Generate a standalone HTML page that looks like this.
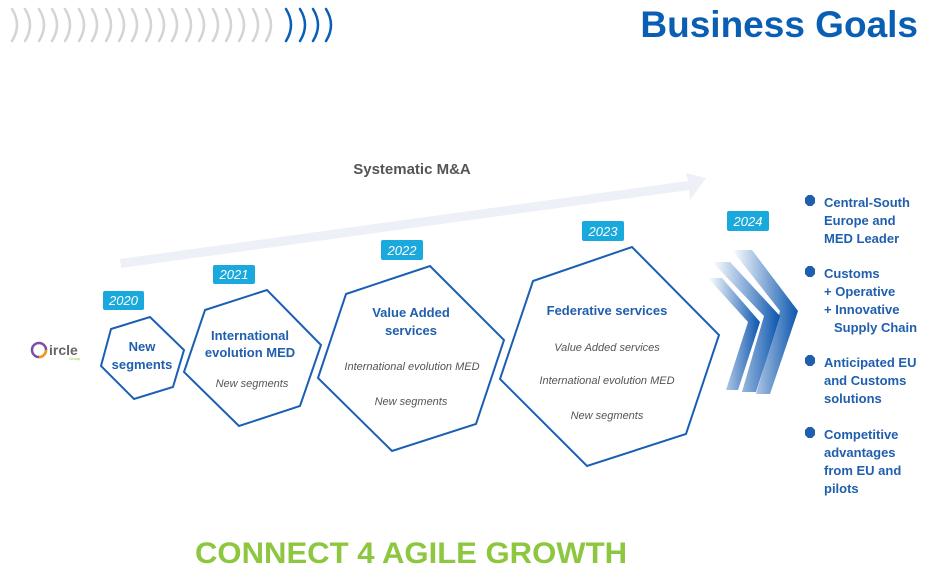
<!DOCTYPE html>
<html><head><meta charset="utf-8"><style>
body{margin:0;background:#fff;width:935px;height:582px;overflow:hidden}
svg{display:block;font-family:"Liberation Sans",sans-serif}
</style></head><body>
<svg width="935" height="582" viewBox="0 0 935 582">
<defs>
<linearGradient id="g" x1="0" y1="0" x2="1" y2="0">
<stop offset="0" stop-color="#1a5fb4" stop-opacity="0"/>
<stop offset="1" stop-color="#0a55ad" stop-opacity="1"/>
</linearGradient>
</defs>
<!-- header arcs -->
<g fill="none" stroke-width="2.5" stroke-linecap="round">
<g stroke="#d4d4d4">
<path d="M12 9 Q22 25 12 41"/><path d="M25 9 Q35 25 25 41"/><path d="M39 9 Q49 25 39 41"/><path d="M52 9 Q62 25 52 41"/><path d="M65 9 Q75 25 65 41"/><path d="M79 9 Q89 25 79 41"/><path d="M92 9 Q102 25 92 41"/><path d="M106 9 Q116 25 106 41"/><path d="M119 9 Q129 25 119 41"/><path d="M132 9 Q142 25 132 41"/><path d="M146 9 Q156 25 146 41"/><path d="M159 9 Q169 25 159 41"/><path d="M172 9 Q182 25 172 41"/><path d="M186 9 Q196 25 186 41"/><path d="M199 9 Q209 25 199 41"/><path d="M213 9 Q223 25 213 41"/><path d="M226 9 Q236 25 226 41"/><path d="M239 9 Q249 25 239 41"/><path d="M253 9 Q263 25 253 41"/><path d="M266 9 Q276 25 266 41"/>
</g>
<g stroke="#0a5fb4">
<path d="M286 9 Q296 25 286 41"/><path d="M300 9 Q310 25 300 41"/><path d="M313 9 Q323 25 313 41"/><path d="M326 9 Q336 25 326 41"/>
</g></g>
<text x="918" y="37" text-anchor="end" font-size="37" font-weight="bold" fill="#0a5fb4">Business Goals</text>
<!-- big arrow -->
<polygon points="120,259 688,181 686,173 706,178 690,200 689,190 121,268" fill="#eef0f8"/>
<text x="412" y="174" text-anchor="middle" font-size="15" font-weight="bold" fill="#555">Systematic M&amp;A</text>
<!-- logo -->
<circle cx="39" cy="350" r="7" fill="none" stroke="#7b4fa6" stroke-width="2.5"/>
<path d="M39 357 A7 7 0 0 0 46 350" fill="none" stroke="#f39c12" stroke-width="2.5"/>
<text x="49" y="355" font-size="14" font-weight="bold" fill="#666">ircle</text>
<text x="69" y="360" font-size="4" fill="#8dc63f">Group</text>
<!-- hexagons -->
<g fill="none" stroke="#1a5fb4" stroke-width="2">
<polygon points="111,329 150,317 184,350 173,387 134,399 101,366"/>
<polygon points="205,310 267,290 321,345 300,406 239,426 184,372"/>
<polygon points="346,294 430,266 504,340 476,424 392,451 318,378"/>
<polygon points="533,281 632,247 719,335 686,434 587,466 500,379"/>
</g>
<!-- badges -->
<g fill="#1aa9dc">
<rect x="103" y="291" width="41" height="19" rx="2"/>
<rect x="213" y="265" width="42" height="19" rx="2"/>
<rect x="381" y="240" width="42" height="20" rx="2"/>
<rect x="582" y="221" width="42" height="20" rx="2"/>
<rect x="727" y="211" width="42" height="20" rx="2"/>
</g>
<g fill="#fff" font-size="13" font-style="italic" text-anchor="middle">
<text x="123.5" y="305">2020</text><text x="234" y="279">2021</text><text x="402" y="255">2022</text><text x="603" y="236">2023</text><text x="748" y="226">2024</text>
</g>
<g fill="#1f5fae" font-weight="bold" font-size="13" text-anchor="middle">
<text x="142" y="351">New</text><text x="142" y="369">segments</text>
<text x="250" y="340">International</text><text x="250" y="357">evolution MED</text>
<text x="411" y="317">Value Added</text><text x="411" y="335">services</text>
<text x="607" y="315">Federative services</text>
</g>
<g fill="#555" font-style="italic" font-size="11" text-anchor="middle">
<text x="252" y="387">New segments</text>
<text x="412" y="370">International evolution MED</text>
<text x="411" y="405">New segments</text>
<text x="607" y="351">Value Added services</text>
<text x="607" y="384">International evolution MED</text>
<text x="607" y="419">New segments</text>
</g>
<!-- chevrons -->
<polygon points="708,278 722,278 760,322 738,390 726,390 748,322" fill="url(#g)"/>
<polygon points="712,262 730,262 780,316 756,392 742,392 764,316" fill="url(#g)"/>
<polygon points="732,250 752,250 798,311 770,394 756,394 780,311" fill="url(#g)"/>
<!-- bullets -->
<g fill="#1f5fae">
<polygon points="805,198 808,195 812,195 815,198 815,203 812,206 808,206 805,203"/>
<polygon points="805,269 808,266 812,266 815,269 815,274 812,277 808,277 805,274"/>
<polygon points="805,358 808,355 812,355 815,358 815,363 812,366 808,366 805,363"/>
<polygon points="805,430 808,427 812,427 815,430 815,435 812,438 808,438 805,435"/>
</g>
<g fill="#1f5fae" font-weight="bold" font-size="13">
<text x="824" y="207">Central-South</text><text x="824" y="225">Europe and</text><text x="824" y="243">MED Leader</text>
<text x="824" y="278">Customs</text><text x="824" y="296">+ Operative</text><text x="824" y="314">+ Innovative</text><text x="834" y="332">Supply Chain</text>
<text x="824" y="367">Anticipated EU</text><text x="824" y="385">and Customs</text><text x="824" y="403">solutions</text>
<text x="824" y="439">Competitive</text><text x="824" y="457">advantages</text><text x="824" y="475">from EU and</text><text x="824" y="493">pilots</text>
</g>
<text x="411" y="563" text-anchor="middle" font-size="30" font-weight="bold" fill="#8dc63f" textLength="432" lengthAdjust="spacingAndGlyphs">CONNECT 4 AGILE GROWTH</text>
</svg>
</body></html>
